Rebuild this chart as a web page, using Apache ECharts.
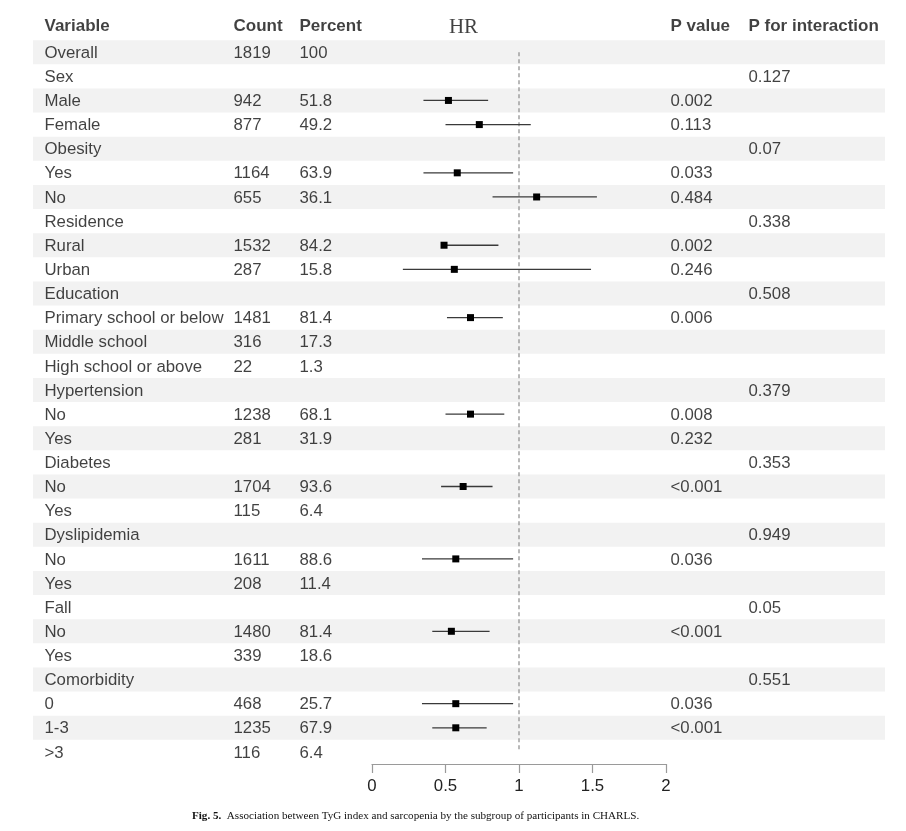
<!DOCTYPE html>
<html>
<head>
<meta charset="utf-8">
<script src="https://cdn.jsdelivr.net/npm/echarts@6/dist/echarts.min.js"></script>
<style>
  html, body { margin: 0; padding: 0; background: #fff; }
  #chart { width: 906px; height: 831px; }
</style>
</head>
<body>
<div id="chart"></div>
<script>
// table columns, one entry per row (top to bottom)
const variables = ['Overall', 'Sex', 'Male', 'Female', 'Obesity', 'Yes', 'No', 'Residence', 'Rural', 'Urban',
  'Education', 'Primary school or below', 'Middle school', 'High school or above', 'Hypertension', 'No', 'Yes',
  'Diabetes', 'No', 'Yes', 'Dyslipidemia', 'No', 'Yes', 'Fall', 'No', 'Yes', 'Comorbidity', '0', '1-3', '>3'];
const counts = ['1819', '', '942', '877', '', '1164', '655', '', '1532', '287', '', '1481', '316', '22', '',
  '1238', '281', '', '1704', '115', '', '1611', '208', '', '1480', '339', '', '468', '1235', '116'];
const percents = ['100', '', '51.8', '49.2', '', '63.9', '36.1', '', '84.2', '15.8', '', '81.4', '17.3', '1.3', '',
  '68.1', '31.9', '', '93.6', '6.4', '', '88.6', '11.4', '', '81.4', '18.6', '', '25.7', '67.9', '6.4'];
const pValues = ['', '', '0.002', '0.113', '', '0.033', '0.484', '', '0.002', '0.246', '', '0.006', '', '', '',
  '0.008', '0.232', '', '<0.001', '', '', '0.036', '', '', '<0.001', '', '', '0.036', '<0.001', ''];
const pInteraction = ['', '0.127', '', '', '0.07', '', '', '0.338', '', '', '0.508', '', '', '', '0.379', '', '',
  '0.353', '', '', '0.949', '', '', '0.05', '', '', '0.551', '', '', ''];

// hazard ratios and 95% CI (null = not drawn)
const hr = [null, null, 0.52, 0.73, null, 0.58, 1.12, null, 0.49, 0.56, null, 0.67, null, null, null,
  0.67, null, null, 0.62, null, null, 0.57, null, null, 0.54, null, null, 0.57, 0.57, null];
const lower = [null, null, 0.35, 0.50, null, 0.35, 0.82, null, 0.47, 0.21, null, 0.51, null, null, null,
  0.50, null, null, 0.47, null, null, 0.34, null, null, 0.41, null, null, 0.34, 0.41, null];
const upper = [null, null, 0.79, 1.08, null, 0.96, 1.53, null, 0.86, 1.49, null, 0.89, null, null, null,
  0.90, null, null, 0.82, null, null, 0.96, null, null, 0.80, null, null, 0.96, 0.78, null];

const headers = ['Variable', 'Count', 'Percent', 'HR', 'P value', 'P for interaction'];
const hrTicks = [0, 0.5, 1, 1.5, 2];
const refLine = 1;

// row 0 is the header row
const rows = ['header'].concat(variables.map((v, i) => 'r' + i));

const TEXT = '#111';
const SANS = 'Liberation Sans';

function textSeries(values, x) {
  return {
    type: 'scatter',
    xAxisIndex: 0, yAxisIndex: 0,
    symbolSize: 1,
    itemStyle: { color: 'rgba(0,0,0,0)' },
    silent: true,
    z: 3,
    data: values.map((v, i) => v === '' ? null : [x, i + 1, v]).filter(d => d),
    label: {
      show: true, position: 'right', distance: 0,
      formatter: p => p.value[2],
      color: TEXT, fontSize: 16.8, fontFamily: SANS,
      offset: [0, 1]
    }
  };
}

function headerSeries() {
  const xs = [11, 200, 266, 430.5, 637, 715];
  return {
    type: 'scatter',
    xAxisIndex: 0, yAxisIndex: 0,
    symbolSize: 1,
    itemStyle: { color: 'rgba(0,0,0,0)' },
    silent: true,
    z: 3,
    data: headers.map((h, i) => {
      const item = { value: [xs[i], 0, h] };
      if (h === 'HR') {
        item.label = { position: 'inside', fontFamily: 'Liberation Serif', fontWeight: 'normal', fontSize: 21, offset: [0, -1] };
      }
      return item;
    }),
    label: {
      show: true, position: 'right', distance: 0,
      formatter: p => p.value[2],
      color: TEXT, fontSize: 17, fontFamily: SANS, fontWeight: 'bold',
      offset: [0, -2]
    }
  };
}

const chart = echarts.init(document.getElementById('chart'));

const option = {
  animation: false,
  title: {
    left: 187, top: 806,
    text: '{b|Fig. 5.}  Association between TyG index and sarcopenia by the subgroup of participants in CHARLS.',
    textStyle: {
      fontFamily: 'Liberation Serif', fontSize: 11.1, fontWeight: 'normal', color: '#111',
      rich: { b: { fontFamily: 'Liberation Serif', fontSize: 11.1, fontWeight: 'bold', color: '#111' } }
    }
  },
  grid: [
    { left: 33, right: 21, top: 16, bottom: 67 },
    { left: 372, right: 240, top: 16, bottom: 67 }
  ],
  xAxis: [
    { gridIndex: 0, type: 'value', min: 0, max: 852, show: false },
    {
      gridIndex: 1, type: 'value', min: 0, max: 2, interval: 0.5,
      splitLine: { show: false },
      axisLine: { show: true, lineStyle: { color: '#9a9a9a', width: 1.2 } },
      axisTick: { show: true, length: 9, lineStyle: { color: '#9a9a9a', width: 1.2 } },
      axisLabel: { color: '#222', fontSize: 16.8, fontFamily: SANS, margin: 14,
        customValues: hrTicks }
    }
  ],
  yAxis: [
    { gridIndex: 0, type: 'category', data: rows, inverse: true, show: false },
    { gridIndex: 1, type: 'category', data: rows, inverse: true, show: false }
  ],
  series: [
    {
      // alternating row shading
      type: 'bar',
      xAxisIndex: 0, yAxisIndex: 0,
      barWidth: '100%',
      silent: true,
      z: 1,
      itemStyle: { color: '#f2f2f2' },
      data: rows.map((r, i) => (i > 0 && (i - 1) % 2 === 0) ? 852 : '-')
    },
    headerSeries(),
    textSeries(variables, 11),
    textSeries(counts, 200),
    textSeries(percents, 266),
    textSeries(pValues, 637),
    textSeries(pInteraction, 715),
    {
      // reference line at HR = 1
      type: 'line',
      xAxisIndex: 1, yAxisIndex: 1,
      symbol: 'none',
      silent: true,
      z: 2,
      lineStyle: { color: '#8a8a8a', width: 1.2, type: [4, 3] },
      data: [[refLine, 1], [refLine, variables.length]]
    },
    {
      type: 'custom',
      xAxisIndex: 1, yAxisIndex: 1,
      z: 4,
      encode: { x: [0, 1, 2], y: 3 },
      data: hr.map((h, i) => h === null ? null : [lower[i], upper[i], h, i + 1]).filter(d => d),
      renderItem: function (params, api) {
        const y = api.value(3);
        const p1 = api.coord([api.value(0), y]);
        const p2 = api.coord([api.value(1), y]);
        const c = api.coord([api.value(2), y]);
        return {
          type: 'group',
          children: [
            { type: 'line', shape: { x1: p1[0], y1: p1[1], x2: p2[0], y2: p2[1] },
              style: { stroke: '#3a3a3a', lineWidth: 1.3 } },
            { type: 'rect', shape: { x: c[0] - 3.5, y: c[1] - 3.5, width: 7, height: 7 },
              style: { fill: '#000' } }
          ]
        };
      }
    }
  ]
};

chart.setOption(option);
</script>
</body>
</html>
